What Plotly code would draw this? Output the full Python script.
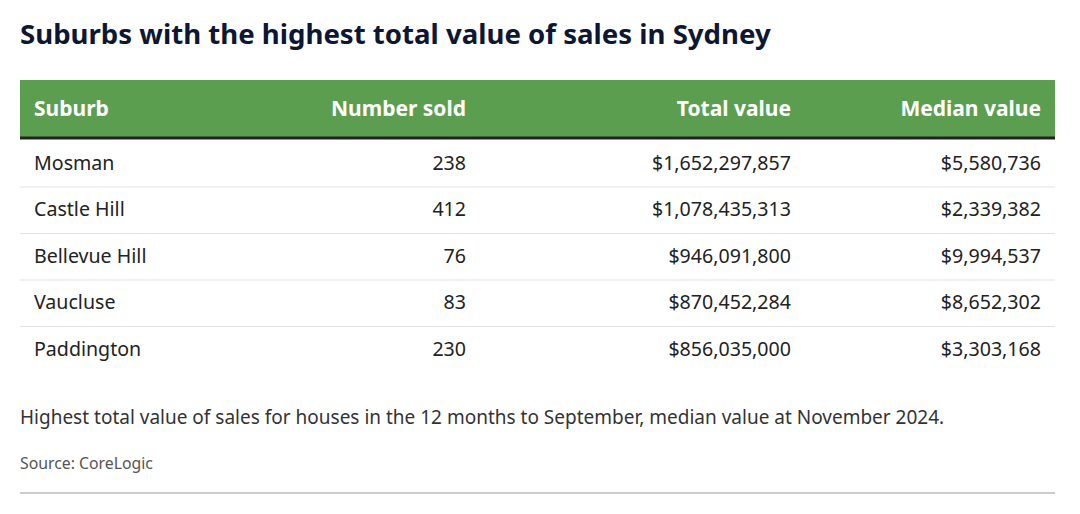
import plotly.graph_objects as go

# ---- data ----
suburbs = ["Mosman", "Castle Hill", "Bellevue Hill", "Vaucluse", "Paddington"]
number_sold = [238, 412, 76, 83, 230]
total_value = [1652297857, 1078435313, 946091800, 870452284, 856035000]
median_value = [5580736, 2339382, 9994537, 8652302, 3303168]
headers = ["Suburb", "Number sold", "Total value", "Median value"]

title = "Suburbs with the highest total value of sales in Sydney"
note = "Highest total value of sales for houses in the 12 months to September, median value at November 2024."
source = "Source: CoreLogic"

# ---- layout constants (pixels, in target-image coordinates) ----
W, H = 1080, 514
OFF = 8  # page body margin
FONT = "Noto Sans"
left, right = 20, 1055
green = "#5c9e50"
row_h = 46.5


def px(x):
    return (x - OFF) / W


def py(y):
    return 1 - (y - OFF) / H


table_top = 86
header_h = 61
col_widths = [6, 274, 174, 325, 250, 6]
aligns = ["left", "left", "right", "right", "right", "right"]

fig = go.Figure(go.Table(
    domain=dict(x=[px(left), px(right)], y=[0, py(table_top)]),
    columnwidth=col_widths,
    header=dict(
        values=[""] + [f"<b>{h}</b>" for h in headers] + [""],
        fill_color="rgba(0,0,0,0)",
        line=dict(color="rgba(0,0,0,0)", width=0),
        align=aligns,
        font=dict(family=FONT, size=21, color="white"),
        height=header_h,
    ),
    cells=dict(
        values=[[""] * len(suburbs), suburbs,
                [str(v) for v in number_sold],
                [f"${v:,}" for v in total_value],
                [f"${v:,}" for v in median_value],
                [""] * len(suburbs)],
        fill_color="rgba(0,0,0,0)",
        line=dict(color="rgba(0,0,0,0)", width=0),
        align=aligns,
        font=dict(family=FONT, size=19.6, color="#222222"),
        height=row_h,
    ),
))

shapes = []
# green header band
shapes.append(dict(type="rect", xref="paper", yref="paper", layer="below",
                   x0=px(left), x1=px(right), y0=py(80), y1=py(137),
                   fillcolor=green, line=dict(width=0)))
# dark rule under header
shapes.append(dict(type="line", xref="paper", yref="paper", x0=px(left), x1=px(right),
                   y0=py(138), y1=py(138), line=dict(color="#222222", width=3)))
# row separators
for i in range(1, len(suburbs)):
    y = 140.5 + i * row_h
    shapes.append(dict(type="line", xref="paper", yref="paper", x0=px(left), x1=px(right),
                       y0=py(y), y1=py(y), line=dict(color="#e3e3e3", width=1)))
# bottom rule
shapes.append(dict(type="line", xref="paper", yref="paper", x0=px(left), x1=px(right),
                   y0=py(493), y1=py(493), line=dict(color="#cccccc", width=2)))

annotations = [
    dict(text=f"<b>{title}</b>", x=px(left - 2), y=py(33), xref="paper", yref="paper",
         xanchor="left", yanchor="middle", showarrow=False,
         font=dict(family=FONT, size=27.6, color="#0d1633")),
    dict(text=note, x=px(left - 2), y=py(417), xref="paper", yref="paper",
         xanchor="left", yanchor="middle", showarrow=False,
         font=dict(family=FONT, size=19, color="#333333")),
    dict(text=source, x=px(left - 2), y=py(463), xref="paper", yref="paper",
         xanchor="left", yanchor="middle", showarrow=False,
         font=dict(family=FONT, size=15.8, color="#555555")),
]

fig.update_layout(
    width=W, height=H, margin=dict(l=0, r=0, t=0, b=0),
    paper_bgcolor="white", plot_bgcolor="white",
    shapes=shapes, annotations=annotations,
)
fig.write_html("out.html")
